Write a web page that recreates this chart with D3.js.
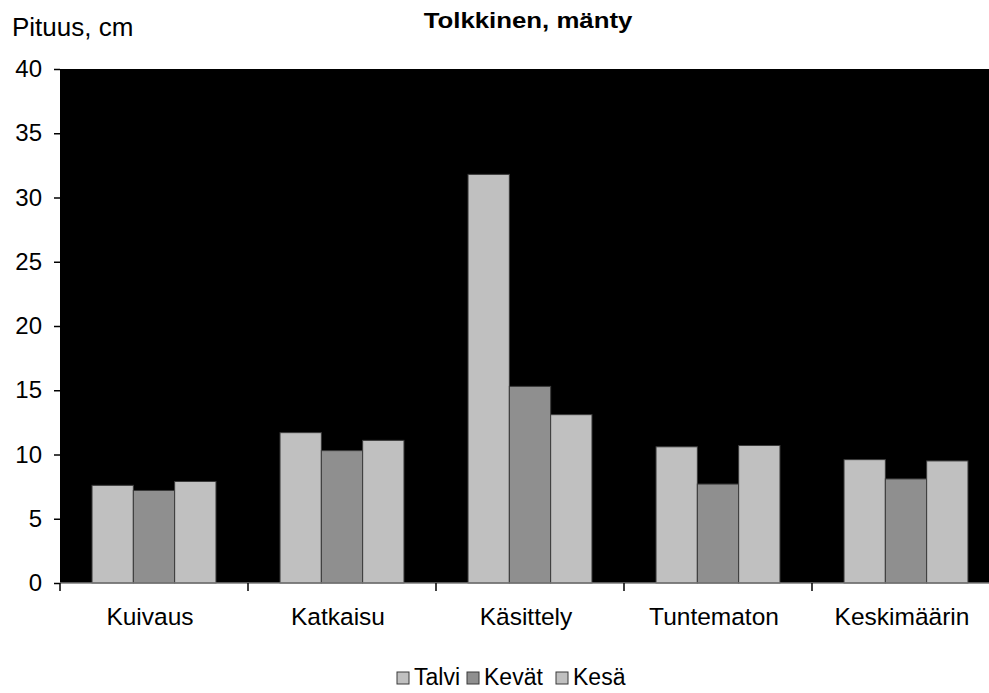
<!DOCTYPE html>
<html>
<head>
<meta charset="utf-8">
<script src="https://cdn.jsdelivr.net/npm/d3@7"></script>
<style>
  html, body { margin: 0; padding: 0; background: #fff; }
  svg { display: block; font-family: Arial, "Liberation Sans", sans-serif; }
</style>
</head>
<body>
<svg id="chart" width="989" height="693"></svg>
<script>
// Pituus (cm) by cause and season
const categories = ["Kuivaus", "Katkaisu", "Käsittely", "Tuntematon", "Keskimäärin"];
const seriesNames = ["Talvi", "Kevät", "Kesä"];
const talvi  = [7.6, 11.7, 31.8, 10.6, 9.6];
const kevat  = [7.2, 10.3, 15.3, 7.7, 8.1];
const kesa   = [7.9, 11.1, 13.1, 10.7, 9.5];
const yTicks = [0, 5, 10, 15, 20, 25, 30, 35, 40];
const seriesColors = ["#c0c0c0", "#8f8f8f", "#c0c0c0"];

const values = [talvi, kevat, kesa];

const svg = d3.select("#chart");
const plot = { left: 60, top: 69, right: 1000, bottom: 583 };

const x0 = d3.scaleBand().domain(categories).range([plot.left, plot.right]).padding(0);
const x1 = d3.scaleBand().domain(seriesNames).range([0, x0.bandwidth()])
  .paddingInner(0).paddingOuter(0.775);
const y = d3.scaleLinear().domain([0, 40]).range([plot.bottom, plot.top]);

// plot area background
svg.append("rect")
  .attr("x", plot.left).attr("y", plot.top)
  .attr("width", plot.right - plot.left).attr("height", plot.bottom - plot.top)
  .attr("fill", "#000");

// bars
const groups = svg.append("g").selectAll("g")
  .data(categories)
  .join("g")
  .attr("transform", d => `translate(${x0(d)},0)`);

groups.selectAll("rect")
  .data((c, i) => seriesNames.map((s, j) => ({ s, j, v: values[j][i] })))
  .join("rect")
  .attr("x", d => x1(d.s))
  .attr("y", d => y(d.v))
  .attr("width", x1.bandwidth())
  .attr("height", d => y(0) - y(d.v))
  .attr("fill", d => seriesColors[d.j])
  .attr("stroke", "#3a3a3a")
  .attr("stroke-width", 1);

// y axis
const yAxis = svg.append("g")
  .attr("transform", `translate(${plot.left},0)`)
  .call(d3.axisLeft(y).tickValues(yTicks).tickSize(6).tickPadding(12));
yAxis.select(".domain").remove();
yAxis.selectAll("line").attr("stroke", "#000").attr("stroke-width", 1.5);
yAxis.selectAll("text").attr("font-size", 24).attr("fill", "#000")
  .attr("font-family", "Arial, 'Liberation Sans', sans-serif");

// x axis baseline and category ticks at band edges
svg.append("line")
  .attr("x1", plot.left).attr("x2", plot.right)
  .attr("y1", plot.bottom).attr("y2", plot.bottom)
  .attr("stroke", "#7a7a7a").attr("stroke-width", 1.5);

const edges = categories.map(c => x0(c)).concat([plot.right]);
svg.append("g").selectAll("line")
  .data(edges)
  .join("line")
  .attr("x1", d => d).attr("x2", d => d)
  .attr("y1", plot.bottom).attr("y2", plot.bottom + 8)
  .attr("stroke", "#000").attr("stroke-width", 1.5);

svg.append("g").selectAll("text")
  .data(categories)
  .join("text")
  .attr("x", d => x0(d) + x0.bandwidth() / 2 - 4)
  .attr("y", 625)
  .attr("text-anchor", "middle")
  .attr("font-size", 24.5)
  .text(d => d);

// titles
svg.append("text")
  .attr("x", 12).attr("y", 36)
  .attr("font-size", 26)
  .text("Pituus, cm");

svg.append("text")
  .attr("transform", "translate(528,28) scale(1.2,1)")
  .attr("text-anchor", "middle")
  .attr("font-size", 21.5)
  .attr("font-weight", "bold")
  .text("Tolkkinen, mänty");

// legend
const legendX = [397, 467, 556];
const legend = svg.append("g").selectAll("g")
  .data(seriesNames)
  .join("g")
  .attr("transform", (d, i) => `translate(${legendX[i]},672)`);
legend.append("rect")
  .attr("width", 12).attr("height", 12)
  .attr("fill", (d, i) => seriesColors[i])
  .attr("stroke", "#3a3a3a").attr("stroke-width", 1);
legend.append("text")
  .attr("x", 17).attr("y", 13)
  .attr("font-size", 23)
  .text(d => d);
</script>
</body>
</html>
